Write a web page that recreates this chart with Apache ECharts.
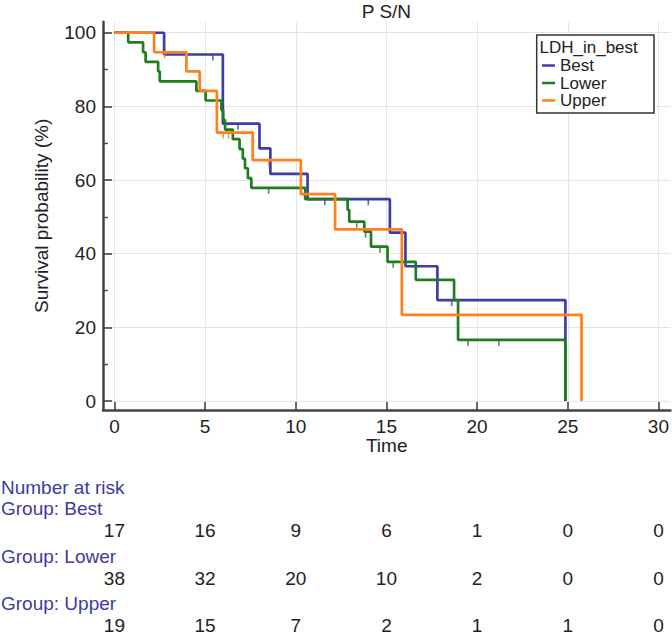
<!DOCTYPE html>
<html>
<head>
<meta charset="utf-8">
<script src="https://cdn.jsdelivr.net/npm/echarts@6/dist/echarts.min.js"></script>
<style>
  html, body { margin: 0; padding: 0; background: #fff; }
  #chart { width: 672px; height: 637px; }
</style>
</head>
<body>
<div id="chart"></div>
<script>
// ---- data ----
const timeTicks = [0, 5, 10, 15, 20, 25, 30];
const survTicks = [0, 20, 40, 60, 80, 100];
const survMinorTicks = [10, 30, 50, 70, 90];

const groupNames = ['Best', 'Lower', 'Upper'];

const bestTime = [0, 2.74, 5.98, 8.0, 8.6, 10.65, 15.19, 16.05, 17.81, 24.87];
const bestSurv = [100, 94.1, 75.3, 68.6, 61.7, 54.8, 45.7, 36.6, 27.4, 0];
const bestCensorTime = [5.43, 6.81, 11.6, 14.0, 18.6];
const bestCensorSurv = [94.1, 75.3, 54.8, 54.8, 27.4];

const lowerTime = [0, 0.76, 1.58, 1.72, 2.41, 2.5, 4.52, 5.03, 5.9, 6.0, 6.1, 6.53, 6.9, 7.08, 7.2, 7.36, 7.55, 10.52, 12.86, 12.95, 13.78, 14.15, 15.06, 16.62, 18.73, 18.95, 24.87];
const lowerSurv = [100, 97.4, 94.7, 92.1, 89.5, 86.8, 84.2, 81.6, 79.0, 76.3, 73.7, 71.1, 68.4, 65.8, 63.2, 60.5, 57.9, 54.8, 51.9, 48.7, 46.0, 41.9, 37.8, 32.9, 27.4, 16.6, 0];
const lowerCensorTime = [8.5, 13.36, 13.85, 14.64, 15.37, 19.5, 21.2];
const lowerCensorSurv = [57.9, 48.7, 46.0, 41.9, 37.8, 16.6, 16.6];

const upperTime = [0, 2.19, 3.97, 4.7, 5.65, 7.63, 10.28, 12.17, 15.85, 25.76];
const upperSurv = [100, 94.7, 89.5, 84.2, 72.9, 65.4, 56.2, 46.6, 23.4, 0];
const upperCensorTime = [2.77, 6.0, 6.3, 8.5];
const upperCensorSurv = [94.7, 72.9, 72.9, 65.4];

const riskBest = [17, 16, 9, 6, 1, 0, 0];
const riskLower = [38, 32, 20, 10, 2, 0, 0];
const riskUpper = [19, 15, 7, 2, 1, 1, 0];

// ---- styling ----
const colors = { Best: '#3d3da6', Lower: '#1f7d1f', Upper: '#ff7f1c' };
const FONT = 'Liberation Sans, Arial, Helvetica, sans-serif';
const TEXT = '#222';
const AXIS = '#444';
const RISK_LABEL = '#3c3c9c';

function pairs(xs, ys) { return xs.map((x, i) => [x, ys[i]]); }

const curves = [
  { name: 'Best', t: bestTime, s: bestSurv, ct: bestCensorTime, cs: bestCensorSurv },
  { name: 'Lower', t: lowerTime, s: lowerSurv, ct: lowerCensorTime, cs: lowerCensorSurv },
  { name: 'Upper', t: upperTime, s: upperSurv, ct: upperCensorTime, cs: upperCensorSurv }
];

const series = [];
curves.forEach(c => {
  series.push({
    name: c.name, type: 'line', step: 'end', showSymbol: false, symbol: 'none',
    data: pairs(c.t, c.s),
    lineStyle: { color: colors[c.name], width: 2.7 },
    itemStyle: { color: colors[c.name] },
    z: 3
  });
});
curves.forEach(c => {
  series.push({
    name: c.name + ' censored', type: 'scatter', symbol: 'rect',
    symbolSize: [1.6, 6], symbolOffset: [0, 3],
    data: pairs(c.ct, c.cs),
    itemStyle: { color: colors[c.name] },
    z: 3, silent: true
  });
});

const chart = echarts.init(document.getElementById('chart'), null, { renderer: 'svg' });

const option = {
  animation: false,
  backgroundColor: '#fff',
  textStyle: { fontFamily: FONT },
  grid: { left: 103, right: 0, top: 21.7, bottom: 227, containLabel: false },
  legend: {
    data: groupNames, orient: 'vertical', left: 542, top: 57, padding: 0,
    itemGap: 0.5, itemWidth: 13, itemHeight: 2.5, icon: 'rect',
    textStyle: { fontSize: 17, lineHeight: 16, color: TEXT, fontFamily: FONT },
    selectedMode: false, z: 6
  },
  xAxis: {
    type: 'value', min: -0.63, max: 30.66,
    name: 'Time', nameLocation: 'middle', nameGap: 25.5, nameMoveOverlap: false,
    nameTextStyle: { fontSize: 19, color: TEXT, fontFamily: FONT },
    axisLine: { show: true, onZero: false, lineStyle: { color: AXIS, width: 2.5 } },
    axisTick: { show: true, inside: true, length: 8, customValues: timeTicks, lineStyle: { color: AXIS, width: 1.6 } },
    axisLabel: { customValues: timeTicks, fontSize: 19, color: TEXT, margin: 6.5, fontFamily: FONT },
    splitLine: { show: true, lineStyle: { color: '#e4e4e4', width: 1 } }
  },
  yAxis: [
    {
      type: 'value', min: -2.44, max: 103,
      name: 'Survival probability (%)', nameLocation: 'middle', nameGap: 52, nameMoveOverlap: false,
      nameTextStyle: { fontSize: 19, color: TEXT, fontFamily: FONT },
      axisLine: { show: true, onZero: false, lineStyle: { color: AXIS, width: 2.5 } },
      axisTick: { show: true, inside: true, length: 9, customValues: survTicks, lineStyle: { color: AXIS, width: 1.6 } },
      axisLabel: { customValues: survTicks, fontSize: 19, color: TEXT, margin: 7, fontFamily: FONT },
      splitLine: { show: true, lineStyle: { color: '#e4e4e4', width: 1 } }
    },
    {
      type: 'value', min: -2.44, max: 103, position: 'left',
      axisLine: { show: false, onZero: false },
      axisTick: { show: true, inside: true, length: 5, customValues: survMinorTicks, lineStyle: { color: AXIS, width: 1.4 } },
      axisLabel: { show: false },
      splitLine: { show: false }
    }
  ],
  series: series
};

chart.setOption(option);

// ---- title, legend box and number-at-risk table positioned through the axis scale ----
const colX = timeTicks.map(t => chart.convertToPixel({ xAxisIndex: 0 }, t));
const centerX = chart.convertToPixel({ xAxisIndex: 0 }, 15);

function txt(x, y, text, color, align, size) {
  return {
    type: 'text', x: x, y: y, silent: true, z: 10,
    style: { text: String(text), fill: color, fontSize: size || 19, fontFamily: FONT, align: align || 'center', verticalAlign: 'middle' }
  };
}

const graphics = [];
graphics.push(txt(centerX, 11, 'P S/N', TEXT, 'center'));
graphics.push({
  type: 'rect', silent: true, z: 3,
  shape: { x: 536.7, y: 35, width: 117.3, height: 78 },
  style: { fill: '#fff', stroke: '#333', lineWidth: 1.5 }
});
graphics.push(txt(539.5, 47, 'LDH_in_best', TEXT, 'left', 17));

const riskRows = [
  { label: 'Group: Best', labelY: 508.5, valY: 530.5, vals: riskBest },
  { label: 'Group: Lower', labelY: 556, valY: 578.5, vals: riskLower },
  { label: 'Group: Upper', labelY: 603.5, valY: 625, vals: riskUpper }
];
graphics.push(txt(1, 487.5, 'Number at risk', RISK_LABEL, 'left'));
riskRows.forEach(r => {
  graphics.push(txt(1, r.labelY, r.label, RISK_LABEL, 'left'));
  r.vals.forEach((v, i) => graphics.push(txt(colX[i], r.valY, v, TEXT, 'center')));
});

chart.setOption({ graphic: graphics });
</script>
</body>
</html>
